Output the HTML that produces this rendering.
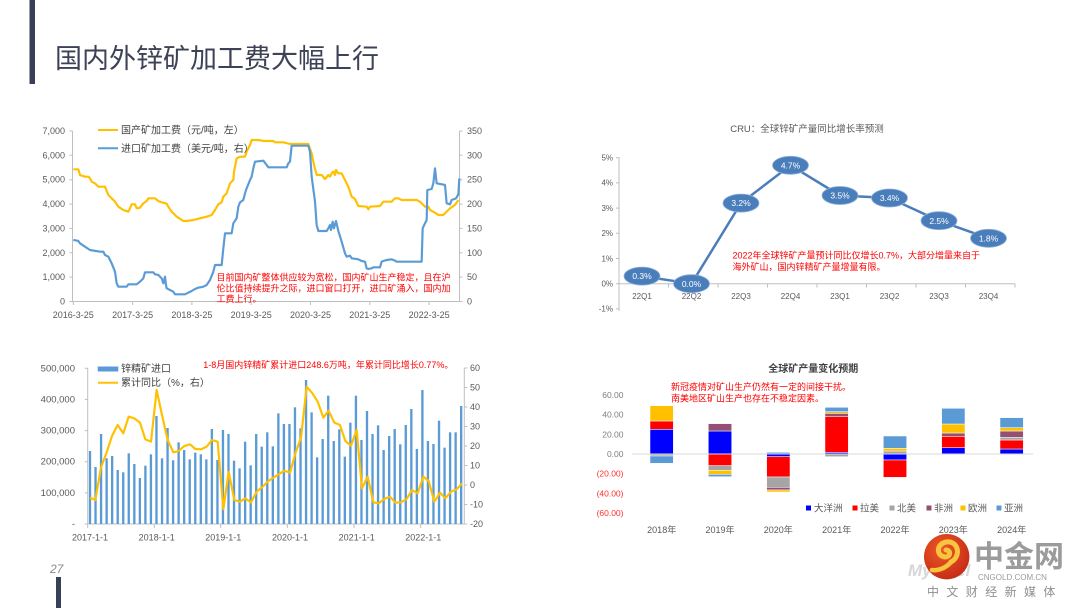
<!DOCTYPE html>
<html><head><meta charset="utf-8">
<style>
html,body{margin:0;padding:0;background:#fff;}
body{width:1080px;height:608px;overflow:hidden;}
svg{display:block;font-family:"Liberation Sans","Noto Sans CJK SC",sans-serif;}
.t{fill:#595959;font-size:9px;}
.ax{stroke:#BFBFBF;stroke-width:1;fill:none;}
.red{fill:#FF0000;font-size:9px;}
</style></head>
<body>
<svg width="1080" height="608" viewBox="0 0 1080 608" xmlns="http://www.w3.org/2000/svg">
<!-- header -->
<rect x="29.5" y="0" width="5.5" height="84" fill="#3A3F58"/>
<text x="55" y="68" font-size="27" fill="#3D4256">国内外锌矿加工费大幅上行</text>

<!-- ============ TOP LEFT ============ -->
<g class="ax">
<line x1="72.5" y1="131" x2="72.5" y2="301.5"/>
<line x1="459.5" y1="131" x2="459.5" y2="301.5"/>
<line x1="72.5" y1="301.5" x2="459.5" y2="301.5"/>
<path d="M69.5 301.5H72.5M69.5 277.1H72.5M69.5 252.8H72.5M69.5 228.4H72.5M69.5 204.1H72.5M69.5 179.7H72.5M69.5 155.3H72.5M69.5 131H72.5"/>
<path d="M459.5 301.5H462.5M459.5 277.1H462.5M459.5 252.8H462.5M459.5 228.4H462.5M459.5 204.1H462.5M459.5 179.7H462.5M459.5 155.3H462.5M459.5 131H462.5"/>
<path d="M73.3 301.5V305M132.6 301.5V305M191.9 301.5V305M251.2 301.5V305M310.5 301.5V305M369.8 301.5V305M429.1 301.5V305"/>
</g>
<g class="t" text-anchor="end">
<text x="65" y="304.5">0</text>
<text x="65" y="280.1">1,000</text>
<text x="65" y="255.8">2,000</text>
<text x="65" y="231.4">3,000</text>
<text x="65" y="207.1">4,000</text>
<text x="65" y="182.7">5,000</text>
<text x="65" y="158.3">6,000</text>
<text x="65" y="134">7,000</text>
</g>
<g class="t">
<text x="467" y="304.5">0</text>
<text x="467" y="280.1">50</text>
<text x="467" y="255.8">100</text>
<text x="467" y="231.4">150</text>
<text x="467" y="207.1">200</text>
<text x="467" y="182.7">250</text>
<text x="467" y="158.3">300</text>
<text x="467" y="134">350</text>
</g>
<g class="t" text-anchor="middle" fill="#404040">
<text x="73.3" y="318">2016-3-25</text>
<text x="132.6" y="318">2017-3-25</text>
<text x="191.9" y="318">2018-3-25</text>
<text x="251.2" y="318">2019-3-25</text>
<text x="310.5" y="318">2020-3-25</text>
<text x="369.8" y="318">2021-3-25</text>
<text x="429.1" y="318">2022-3-25</text>
</g>
<g transform="translate(30 115) scale(0.33333)" fill="none" stroke-width="6.5" stroke-linejoin="round">
<polyline stroke="#FFC000" points="130,163 145,163 150,180 165,185 175,185 180,190 185,200 195,205 205,215 225,215 235,240 255,260 265,275 280,285 295,290 300,280 305,268 315,268 320,280 330,278 340,265 350,258 355,250 375,250 385,258 395,262 410,266 415,275 425,290 440,305 460,318 470,318 490,315 510,310 530,305 545,300 555,285 565,268 575,262 580,245 590,235 600,205 610,195 612,170 620,130 630,125 645,125 650,110 660,90 665,75 685,75 700,78 730,78 735,82 760,82 780,87 835,87 845,115 852,150 860,180 875,180 885,192 895,180 900,185 905,175 910,170 915,180 918,165 925,175 935,175 945,195 955,215 965,245 975,252 985,273 1010,275 1015,283 1020,275 1050,273 1060,260 1085,260 1095,250 1105,250 1115,255 1160,255 1170,260 1185,275 1195,275 1200,285 1215,293 1225,300 1240,300 1250,290 1260,280 1275,270 1285,255"/>
<polyline stroke="#5B9BD5" points="130,375 145,378 150,385 165,395 180,405 210,410 220,410 225,420 235,425 245,445 255,470 260,505 265,515 290,515 295,508 320,508 330,500 340,490 345,472 370,472 375,478 385,480 395,490 400,505 405,485 408,510 410,520 420,525 430,530 435,538 465,538 475,533 485,528 495,522 505,518 520,515 530,510 540,495 550,470 555,450 575,450 580,400 585,355 605,355 610,325 620,310 625,275 630,262 640,255 645,235 650,220 660,195 665,185 670,160 675,140 700,137 710,150 715,157 770,157 775,145 780,140 785,92 835,92 840,110 845,185 855,260 860,330 865,348 890,348 895,340 900,330 903,345 908,320 912,340 918,318 925,348 935,380 945,415 950,425 960,422 965,430 985,433 995,438 1005,440 1010,460 1015,462 1025,460 1030,457 1050,457 1055,440 1060,438 1070,435 1085,433 1095,437 1100,440 1110,440 1175,440 1178,340 1185,325 1190,315 1192,225 1205,222 1210,205 1215,160 1220,205 1245,210 1250,265 1260,268 1265,255 1278,250 1285,238 1288,190"/>
</g>
<line x1="98" y1="130" x2="118" y2="130" stroke="#FFC000" stroke-width="2"/>
<text x="121" y="133.5" font-size="10" fill="#404040">国产矿加工费（元/吨，左）</text>
<line x1="98" y1="148.3" x2="118" y2="148.3" stroke="#5B9BD5" stroke-width="2"/>
<text x="121" y="151.8" font-size="10" fill="#404040">进口矿加工费（美元/吨，右）</text>
<g class="red">
<text x="216.5" y="280.5">目前国内矿整体供应较为宽松，国内矿山生产稳定，且在沪</text>
<text x="216.5" y="291.5">伦比值持续提升之际，进口窗口打开，进口矿涌入，国内加</text>
<text x="216.5" y="302">工费上行。</text>
</g>

<!-- ============ TOP RIGHT ============ -->
<text x="807" y="132" text-anchor="middle" font-size="9.5" fill="#595959">CRU：全球锌矿产量同比增长率预测</text>
<g class="ax" stroke="#A6A6A6">
<line x1="619" y1="157" x2="619" y2="311"/>
<line x1="619" y1="283.7" x2="1015" y2="283.7"/>
<path d="M616 157.7H619M616 182.9H619M616 208.1H619M616 233.3H619M616 258.5H619M616 283.7H619M616 308.9H619"/>
<path d="M619 283.7V287.5M668.5 283.7V287.5M718 283.7V287.5M767.5 283.7V287.5M817 283.7V287.5M866.5 283.7V287.5M916 283.7V287.5M965.5 283.7V287.5M1015 283.7V287.5"/>
</g>
<g class="t" text-anchor="end" font-size="8">
<text x="613" y="160.5" font-size="8">5%</text>
<text x="613" y="185.7" font-size="8">4%</text>
<text x="613" y="210.9" font-size="8">3%</text>
<text x="613" y="236.1" font-size="8">2%</text>
<text x="613" y="261.3" font-size="8">1%</text>
<text x="613" y="286.5" font-size="8">0%</text>
<text x="613" y="311.7" font-size="8">-1%</text>
</g>
<g class="t" text-anchor="middle">
<text x="642" y="299" font-size="8">22Q1</text>
<text x="691.5" y="299" font-size="8">22Q2</text>
<text x="741" y="299" font-size="8">22Q3</text>
<text x="790.5" y="299" font-size="8">22Q4</text>
<text x="840" y="299" font-size="8">23Q1</text>
<text x="889.5" y="299" font-size="8">23Q2</text>
<text x="939" y="299" font-size="8">23Q3</text>
<text x="988.5" y="299" font-size="8">23Q4</text>
</g>
<polyline fill="none" stroke="#4A7EBB" stroke-width="2.5" stroke-linejoin="round" points="642,276.1 691.5,283.7 741,203.1 790.5,165.3 840,195.5 889.5,198 939,220.7 988.5,238.3"/>
<g fill="#4A7EBB" stroke="#8DB0DA" stroke-width="0.8">
<ellipse cx="642" cy="276.1" rx="18" ry="9"/>
<ellipse cx="691.5" cy="283.7" rx="18" ry="9"/>
<ellipse cx="741" cy="203.1" rx="18" ry="9"/>
<ellipse cx="790.5" cy="165.3" rx="18" ry="9"/>
<ellipse cx="840" cy="195.5" rx="18" ry="9"/>
<ellipse cx="889.5" cy="198" rx="18" ry="9"/>
<ellipse cx="939" cy="220.7" rx="18" ry="9"/>
<ellipse cx="988.5" cy="238.3" rx="18" ry="9"/>
</g>
<g fill="#fff" font-size="8.5" text-anchor="middle">
<text x="642" y="279.2">0.3%</text>
<text x="691.5" y="286.8">0.0%</text>
<text x="741" y="206.2">3.2%</text>
<text x="790.5" y="168.4">4.7%</text>
<text x="840" y="198.6">3.5%</text>
<text x="889.5" y="201.1">3.4%</text>
<text x="939" y="223.8">2.5%</text>
<text x="988.5" y="241.4">1.8%</text>
</g>
<g class="red">
<text x="732.5" y="258.5">2022年全球锌矿产量预计同比仅增长0.7%，大部分增量来自于</text>
<text x="732.5" y="270">海外矿山，国内锌精矿产量增量有限。</text>
</g>

<!-- ============ BOTTOM LEFT ============ -->
<g class="ax" stroke="#D0D0D0">
<line x1="87.7" y1="368" x2="87.7" y2="524"/>
<line x1="464.3" y1="368" x2="464.3" y2="524"/>
<line x1="87.7" y1="524" x2="464.3" y2="524"/>
<path d="M84.7 524H87.7M84.7 492.9H87.7M84.7 461.7H87.7M84.7 430.6H87.7M84.7 399.4H87.7M84.7 368.3H87.7"/>
<path d="M464.3 524H467.3M464.3 504.5H467.3M464.3 485H467.3M464.3 465.5H467.3M464.3 446H467.3M464.3 426.5H467.3M464.3 407H467.3M464.3 387.5H467.3M464.3 368H467.3"/>
<path d="M87.7 524V528M154.3 524V528M220.7 524V528M287.3 524V528M354 524V528M420.7 524V528"/>
</g>
<g transform="translate(30 350) scale(0.33333)" fill="#5B9BD5">
<rect x="176.5" y="303" width="7" height="219"/><rect x="193.1" y="351" width="7" height="171"/><rect x="209.7" y="252" width="7" height="270"/><rect x="226.4" y="325" width="7" height="197"/><rect x="243" y="318" width="7" height="204"/><rect x="259.6" y="360" width="7" height="162"/><rect x="276.2" y="367" width="7" height="155"/><rect x="292.8" y="310" width="7" height="212"/><rect x="309.5" y="342" width="7" height="180"/><rect x="326.1" y="384" width="7" height="138"/><rect x="342.7" y="347" width="7" height="175"/><rect x="359.3" y="313" width="7" height="209"/>
<rect x="375.9" y="198" width="7" height="324"/><rect x="392.6" y="325" width="7" height="197"/><rect x="409.2" y="234" width="7" height="288"/><rect x="425.8" y="331" width="7" height="191"/><rect x="442.4" y="277" width="7" height="245"/><rect x="459" y="300" width="7" height="222"/><rect x="475.7" y="328" width="7" height="194"/><rect x="492.3" y="308" width="7" height="214"/><rect x="508.9" y="313" width="7" height="209"/><rect x="525.5" y="328" width="7" height="194"/><rect x="542.1" y="237" width="7" height="285"/><rect x="558.8" y="330" width="7" height="192"/>
<rect x="575.4" y="240" width="7" height="282"/><rect x="592" y="252" width="7" height="270"/><rect x="608.6" y="332" width="7" height="190"/><rect x="625.2" y="355" width="7" height="167"/><rect x="641.9" y="275" width="7" height="247"/><rect x="658.5" y="346" width="7" height="176"/><rect x="675.1" y="252" width="7" height="270"/><rect x="691.7" y="290" width="7" height="232"/><rect x="708.3" y="247" width="7" height="275"/><rect x="725" y="289" width="7" height="233"/><rect x="741.6" y="190" width="7" height="332"/><rect x="758.2" y="222" width="7" height="300"/>
<rect x="774.8" y="222" width="7" height="300"/><rect x="791.4" y="172" width="7" height="350"/><rect x="808.1" y="235" width="7" height="287"/><rect x="824.7" y="90" width="7" height="432"/><rect x="841.3" y="187" width="7" height="335"/><rect x="857.9" y="322" width="7" height="200"/><rect x="874.5" y="267" width="7" height="255"/><rect x="891.2" y="137" width="7" height="385"/><rect x="907.8" y="273" width="7" height="249"/><rect x="924.4" y="238" width="7" height="284"/><rect x="941" y="320" width="7" height="202"/><rect x="957.6" y="218" width="7" height="304"/>
<rect x="974.3" y="137" width="7" height="385"/><rect x="990.9" y="270" width="7" height="252"/><rect x="1007.5" y="183" width="7" height="339"/><rect x="1024.1" y="252" width="7" height="270"/><rect x="1040.7" y="226" width="7" height="296"/><rect x="1057.4" y="300" width="7" height="222"/><rect x="1074" y="258" width="7" height="264"/><rect x="1090.6" y="237" width="7" height="285"/><rect x="1107.2" y="283" width="7" height="239"/><rect x="1123.8" y="225" width="7" height="297"/><rect x="1140.5" y="177" width="7" height="345"/><rect x="1157.1" y="297" width="7" height="225"/>
<rect x="1173.7" y="120" width="7" height="402"/><rect x="1190.3" y="273" width="7" height="249"/><rect x="1206.9" y="282" width="7" height="240"/><rect x="1223.6" y="212" width="7" height="310"/><rect x="1240.2" y="293" width="7" height="229"/><rect x="1256.8" y="247" width="7" height="275"/><rect x="1273.4" y="247" width="7" height="275"/><rect x="1290" y="168" width="7" height="354"/>
<polyline fill="none" stroke="#FFC000" stroke-width="6.5" stroke-linejoin="round" points="180,443 196,450 213,352 229,310 246,258 263,225 280,250 296,200 313,205 330,218 346,268 363,275 380,120 396,195 413,270 430,307 446,303 463,288 480,283 496,297 513,298 530,290 546,270 563,275 580,478 596,365 613,450 630,455 646,445 663,457 680,425 696,412 713,395 730,383 746,373 763,362 780,368 796,310 813,263 830,110 846,128 863,155 880,203 896,182 913,218 930,225 946,273 963,287 980,240 996,415 1013,380 1030,457 1046,460 1063,447 1080,440 1096,458 1113,457 1130,447 1146,420 1163,430 1180,380 1196,393 1213,455 1230,428 1246,445 1263,425 1280,418 1296,400"/>
</g>
<g class="t" text-anchor="end" font-size="9.5">
<text x="75" y="527" font-size="9.5">-</text>
<text x="75" y="495.9" font-size="9.5">100,000</text>
<text x="75" y="464.7" font-size="9.5">200,000</text>
<text x="75" y="433.6" font-size="9.5">300,000</text>
<text x="75" y="402.4" font-size="9.5">400,000</text>
<text x="75" y="371.3" font-size="9.5">500,000</text>
</g>
<g class="t">
<text x="470" y="527">-20</text>
<text x="470" y="507.5">-10</text>
<text x="470" y="488">0</text>
<text x="470" y="468.5">10</text>
<text x="470" y="449">20</text>
<text x="470" y="429.5">30</text>
<text x="470" y="410">40</text>
<text x="470" y="390.5">50</text>
<text x="470" y="371">60</text>
</g>
<g class="t" text-anchor="middle" fill="#404040">
<text x="90" y="540.5">2017-1-1</text>
<text x="156.7" y="540.5">2018-1-1</text>
<text x="223.3" y="540.5">2019-1-1</text>
<text x="290" y="540.5">2020-1-1</text>
<text x="356.7" y="540.5">2021-1-1</text>
<text x="423.3" y="540.5">2022-1-1</text>
</g>
<rect x="97.7" y="366.5" width="20.6" height="5" fill="#5B9BD5"/>
<text x="121" y="372" font-size="10" fill="#404040">锌精矿进口</text>
<line x1="98" y1="382.7" x2="118" y2="382.7" stroke="#FFC000" stroke-width="2"/>
<text x="121" y="386.2" font-size="10" fill="#404040">累计同比（%，右）</text>
<text x="203.3" y="368" class="red">1-8月国内锌精矿累计进口248.6万吨，年累计同比增长0.77%。</text>

<!-- ============ BOTTOM RIGHT ============ -->
<text x="813.3" y="372" text-anchor="middle" font-size="10" font-weight="bold" fill="#404040">全球矿产量变化预期</text>
<g class="red" font-size="9">
<text x="671" y="390">新冠疫情对矿山生产仍然有一定的间接干扰。</text>
<text x="671" y="401.5">南美地区矿山生产也存在不稳定因素。</text>
</g>
<g transform="translate(590 355) scale(0.33333)" stroke="#fff" stroke-width="1.5">
<!-- 2018 -->
<rect x="180" y="223" width="70" height="74" fill="#0000FF"/>
<rect x="180" y="198" width="70" height="25" fill="#FF0000"/>
<rect x="180" y="152" width="70" height="46" fill="#FFC000"/>
<rect x="180" y="297" width="70" height="6" fill="#A5A5A5"/>
<rect x="180" y="303" width="70" height="22" fill="#5B9BD5"/>
<!-- 2019 -->
<rect x="355" y="228" width="70" height="69" fill="#0000FF"/>
<rect x="355" y="206" width="70" height="22" fill="#954F72"/>
<rect x="355" y="297" width="70" height="35" fill="#FF0000"/>
<rect x="355" y="332" width="70" height="14" fill="#A5A5A5"/>
<rect x="355" y="346" width="70" height="12" fill="#FFC000"/>
<rect x="355" y="358" width="70" height="7" fill="#5B9BD5"/>
<!-- 2020 -->
<rect x="530" y="292" width="70" height="5" fill="#5B9BD5"/>
<rect x="530" y="297" width="70" height="8" fill="#0000FF"/>
<rect x="530" y="305" width="70" height="61" fill="#FF0000"/>
<rect x="530" y="366" width="70" height="31" fill="#A5A5A5"/>
<rect x="530" y="397" width="70" height="8" fill="#954F72"/>
<rect x="530" y="405" width="70" height="6" fill="#FFC000"/>
<!-- 2021 -->
<rect x="705" y="292" width="70" height="5" fill="#0000FF"/>
<rect x="705" y="185" width="70" height="107" fill="#FF0000"/>
<rect x="705" y="175" width="70" height="10" fill="#954F72"/>
<rect x="705" y="170" width="70" height="5" fill="#FFC000"/>
<rect x="705" y="157" width="70" height="13" fill="#5B9BD5"/>
<rect x="705" y="297" width="70" height="8" fill="#A5A5A5"/>
<!-- 2022 -->
<rect x="880" y="288" width="70" height="9" fill="#A5A5A5"/>
<rect x="880" y="280" width="70" height="8" fill="#FFC000"/>
<rect x="880" y="243" width="70" height="37" fill="#5B9BD5"/>
<rect x="880" y="297" width="70" height="18" fill="#0000FF"/>
<rect x="880" y="315" width="70" height="52" fill="#FF0000"/>
<!-- 2023 -->
<rect x="1055" y="278" width="70" height="19" fill="#0000FF"/>
<rect x="1055" y="244" width="70" height="34" fill="#FF0000"/>
<rect x="1055" y="234" width="70" height="10" fill="#954F72"/>
<rect x="1055" y="207" width="70" height="27" fill="#FFC000"/>
<rect x="1055" y="160" width="70" height="47" fill="#5B9BD5"/>
<!-- 2024 -->
<rect x="1230" y="282" width="70" height="15" fill="#0000FF"/>
<rect x="1230" y="255" width="70" height="27" fill="#FF0000"/>
<rect x="1230" y="247" width="70" height="8" fill="#A5A5A5"/>
<rect x="1230" y="228" width="70" height="19" fill="#954F72"/>
<rect x="1230" y="218" width="70" height="10" fill="#FFC000"/>
<rect x="1230" y="188" width="70" height="30" fill="#5B9BD5"/>
</g>
<line x1="631.7" y1="454" x2="1033" y2="454" stroke="#D9D9D9" stroke-width="1"/>
<g text-anchor="end" font-size="8.5">
<text x="623.5" y="398" fill="#7F7F7F">60.00</text>
<text x="623.5" y="417.7" fill="#7F7F7F">40.00</text>
<text x="623.5" y="437.3" fill="#7F7F7F">20.00</text>
<text x="623.5" y="457" fill="#7F7F7F">0.00</text>
<text x="623.5" y="476.7" fill="#FF3030">(20.00)</text>
<text x="623.5" y="496.3" fill="#FF3030">(40.00)</text>
<text x="623.5" y="516" fill="#FF3030">(60.00)</text>
</g>
<g class="t" text-anchor="middle" fill="#595959">
<text x="661.7" y="533">2018年</text>
<text x="720" y="533">2019年</text>
<text x="778.3" y="533">2020年</text>
<text x="836.7" y="533">2021年</text>
<text x="895" y="533">2022年</text>
<text x="953.3" y="533">2023年</text>
<text x="1011.7" y="533">2024年</text>
</g>
<rect x="806" y="505.5" width="5" height="5" fill="#0000FF"/>
<text x="814" y="511.5" font-size="9.5" fill="#595959">大洋洲</text>
<rect x="852.5" y="505.5" width="5" height="5" fill="#FF0000"/>
<text x="860" y="511.5" font-size="9.5" fill="#595959">拉美</text>
<rect x="889.5" y="505.5" width="5" height="5" fill="#A5A5A5"/>
<text x="897" y="511.5" font-size="9.5" fill="#595959">北美</text>
<rect x="926.5" y="505.5" width="5" height="5" fill="#954F72"/>
<text x="934" y="511.5" font-size="9.5" fill="#595959">非洲</text>
<rect x="960.5" y="505.5" width="5" height="5" fill="#FFC000"/>
<text x="968" y="511.5" font-size="9.5" fill="#595959">欧洲</text>
<rect x="996.5" y="505.5" width="5" height="5" fill="#5B9BD5"/>
<text x="1004" y="511.5" font-size="9.5" fill="#595959">亚洲</text>

<!-- footer -->
<text x="50" y="573" font-size="12" font-style="italic" fill="#8C8C8C">27</text>
<rect x="56" y="577" width="5" height="31" fill="#3A3F58"/>

<!-- logo -->
<defs>
<radialGradient id="lg" cx="0.4" cy="0.35" r="0.7">
<stop offset="0" stop-color="#EE5A24"/>
<stop offset="1" stop-color="#C42A17"/>
</radialGradient>
</defs>
<text x="908" y="576" font-size="17" font-weight="bold" font-style="italic" fill="#D6D6D6">Mysteel</text>
<circle cx="946.7" cy="556.7" r="22.7" fill="url(#lg)"/>
<path d="M951 562 C962 556 958 540 946 542 C936 544 936 556 945 557 C951 557 951 550 946 550" fill="none" stroke="#F8C63E" stroke-width="5" stroke-linecap="round"/>
<path d="M951 562 C946 568 938 571 932 570" fill="none" stroke="#F8C63E" stroke-width="4.5" stroke-linecap="round"/>
<text x="974" y="567" font-size="30" font-weight="bold" fill="#9B9B9B">中金网</text>
<text x="978" y="580" font-size="8" fill="#9B9B9B">CNGOLD.COM.CN</text>
<text x="927" y="596" font-size="12" letter-spacing="7.4" fill="#8F8F8F">中文财经新媒体</text>
</svg>
</body></html>
